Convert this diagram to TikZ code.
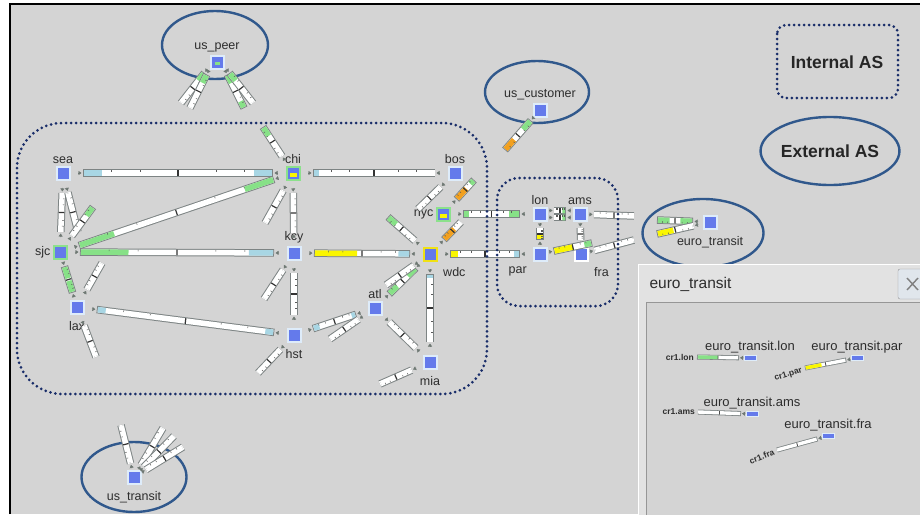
\documentclass[tikz,border=0pt]{standalone}
\usepackage{fontspec}
\setmainfont{Liberation Sans}
\usetikzlibrary{arrows.meta,calc,positioning,shapes.geometric}

\definecolor{canvas}{RGB}{212,212,212}
\definecolor{routerblue}{RGB}{100,122,235}
\definecolor{routerrim}{RGB}{222,236,250}
\definecolor{rimgreen}{RGB}{140,225,140}
\definecolor{rimyellow}{RGB}{240,225,20}
\definecolor{asblue}{RGB}{48,88,140}
\definecolor{asdots}{RGB}{25,45,105}
\definecolor{qgreen}{RGB}{135,225,135}
\definecolor{qblue}{RGB}{168,214,228}
\definecolor{qyellow}{RGB}{250,246,0}
\definecolor{qorange}{RGB}{242,160,30}
\definecolor{qrimgray}{RGB}{125,132,132}
\definecolor{qtickgray}{RGB}{90,90,90}
\definecolor{qtipgray}{RGB}{110,120,115}
\definecolor{labelgray}{RGB}{45,45,45}
\definecolor{winface}{RGB}{226,226,226}
\definecolor{panelrim}{RGB}{150,150,150}

\newcommand{\nodefont}{\fontsize{12.5}{14}\selectfont}
\newcommand{\winfont}{\fontsize{13}{15}\selectfont}

\tikzset{
  router/.style     = {rectangle, fill=routerblue, draw=routerrim, line width=2pt,
                       minimum size=13pt, inner sep=0pt},
  minirouter/.style = {rectangle, fill=routerblue, draw=routerrim, line width=1pt,
                       minimum width=12pt, minimum height=5pt, inner sep=0pt},
  every label/.style= {font=\nodefont, text=labelgray, inner sep=2pt},
  qrim/.style       = {line width=7.5pt, draw=qrimgray},
  qcore/.style      = {line width=5.5pt, draw=white},
  qtick/.style      = {line width=0.5pt, draw=qtickgray},
  qdiv/.style       = {line width=1.2pt, draw=black!80},
  qtip/.style       = {-{Triangle[length=3pt,width=4pt]}, line width=0.4pt, draw=qtipgray},
  mrim/.style       = {line width=5pt, draw=qrimgray},
  mcore/.style      = {line width=3.4pt, draw=white},
  mdiv/.style       = {line width=0.8pt, draw=black!70},
  asring/.style     = {ellipse, draw=asblue, line width=2.4pt, inner sep=0pt},
  asbox/.style      = {draw=asdots, line width=3pt, line cap=round, dash pattern=on 0pt off 5pt},
  crlabel/.style    = {font=\fontsize{8.5}{9}\selectfont\bfseries, text=labelgray, inner sep=0pt},
}

% queue bar between two ends: [gap at far end]{from}{to}{colour}{share}{colour}{share}
\newcommand{\qgap}{20pt}
\newcommand{\qlink}[7][\qgap]{%
  \coordinate (qs) at ($(#2)!\qgap!(#3)$);
  \coordinate (qe) at ($(#3)!#1!(#2)$);
  \draw[qrim] (qs) -- (qe);
  \draw[qcore] ($(qs)!1pt!(qe)$) -- ($(qe)!1pt!(qs)$);
  \draw[qcore,draw=#4] ($(qs)!1pt!(qe)$) -- ($(qs)!#5!(qe)$);
  \draw[qcore,draw=#6] ($(qe)!1pt!(qs)$) -- ($(qe)!#7!(qs)$);
  \foreach \t in {.15,.3,.7,.85}
    \draw[qtick] ($(qs)!\t!(qe)!2.6pt!90:(qe)$) -- ($(qs)!\t!(qe)!1pt!90:(qe)$);
  \draw[qdiv] ($(qs)!.5!(qe)!2.8pt!90:(qe)$) -- ($(qs)!.5!(qe)!2.8pt!-90:(qe)$);
  \draw[qtip] ($(qs)!-5pt!(qe)$) -- ($(qs)!-1.5pt!(qe)$);
  \ifdim#1>0pt \draw[qtip] ($(qe)!-5pt!(qs)$) -- ($(qe)!-1.5pt!(qs)$);\fi
}
% small bar in the euro_transit window: {router}{free end}{colour}{share}
\newcommand{\minilink}[4]{%
  \coordinate (ms) at ($(#1)!11pt!(#2)$);
  \draw[mrim] (ms) -- (#2);
  \draw[mcore] ($(ms)!.8pt!(#2)$) -- ($(#2)!.8pt!(ms)$);
  \draw[mcore,draw=#3] ($(#2)!.8pt!(ms)$) -- ($(#2)!#4!(ms)$);
  \draw[mdiv] ($(ms)!.5!(#2)!1.8pt!90:(#2)$) -- ($(ms)!.5!(#2)!1.8pt!-90:(#2)$);
  \draw[qtip] ($(ms)!-4.5pt!(#2)$) -- ($(ms)!-1pt!(#2)$);
}

\begin{document}
\begin{tikzpicture}[x=1pt,y=-1pt]
  \useasboundingbox (0,0) rectangle (920,514);
  \clip (0,0) rectangle (920,514);

  % screen
  \fill[white] (0,0) rectangle (920,514);
  \fill[canvas] (10,4) rectangle (920,514);
  \draw[line width=1.6pt] (10,514) -- (10,4) -- (920,4);

  % external AS rings
  \node[asring, minimum width=106pt, minimum height=68pt] (peerring) at (215,45) {};
  \node[asring, minimum width=104pt, minimum height=62pt] (custring) at (537,92) {};
  \node[asring, minimum width=121pt, minimum height=68pt] (euroring) at (703,233) {};
  \node[asring, minimum width=105pt, minimum height=70pt] (transring) at (134,477) {};

  % routers
  \node[router, label={above:sea}] (sea) at (63,173) {};
  \node[router, draw=rimgreen, label={above:chi}] (chi) at (293,173) {};
  \node[router, label={above:bos}] (bos) at (455,173) {};
  \node[router, draw=rimgreen, label={left:sjc}] (sjc) at (60,252) {};
  \node[router, label={above:kcy}] (kcy) at (294,253) {};
  \node[router, draw=rimgreen, label={left:nyc}] (nyc) at (443,214) {};
  \node[router, draw=rimyellow, label={[label distance=5pt]below right:wdc}] (wdc) at (430,254) {};
  \node[router, label={[label distance=5pt]below:lax}] (lax) at (77,307) {};
  \node[router, label={[label distance=5pt]below:hst}] (hst) at (294,335) {};
  \node[router, label={above:atl}] (atl) at (375,308) {};
  \node[router, label={[label distance=5pt]below:mia}] (mia) at (430,362) {};
  \node[router, label={above:lon}] (lon) at (540,214) {};
  \node[router, label={above:ams}] (ams) at (580,214) {};
  \node[router, label={[label distance=5pt]below left:par}] (par) at (540,254) {};
  \node[router, draw=white, label={[label distance=5pt]below right:fra}] (fra) at (581,254) {};
  \node[router, label={above:us\_peer}] (peer) at (217,62) {};
  \node[router, label={above:us\_customer}] (cust) at (540,110) {};
  \node[router, label={[label distance=5pt]below:euro\_transit}] (euro) at (710,222) {};
  \node[router, label={[label distance=5pt]below:us\_transit}] (trans) at (134,477) {};
  \fill[qyellow] ($(chi)+(-3,0)$) rectangle ($(chi)+(4,4)$);
  \fill[qyellow] ($(nyc)+(-3,0)$) rectangle ($(nyc)+(4,4)$);
  \fill[qgreen] ($(peer)+(-2,0)$) rectangle ($(peer)+(3,3)$);

  % free ends of the links that are only partly shown
  \coordinate (sjcB) at (78,232);
  \coordinate (sjcNE) at (93,207);
  \coordinate (laxNE) at (102,263);
  \coordinate (laxS) at (96,357);
  \coordinate (chiNW) at (263,127);
  \coordinate (chiSW) at (265,223);
  \coordinate (kcySW) at (264,299);
  \coordinate (hstSW) at (258,373);
  \coordinate (atlSW) at (330,339);
  \coordinate (wdcNW) at (388,217);
  \coordinate (wdcSW) at (386,285);
  \coordinate (wdcNE) at (461,222);
  \coordinate (miaW) at (380,384);
  \coordinate (bosSW) at (418,209);
  \coordinate (nycNE) at (474,180);
  \coordinate (parNE) at (592,243);
  \coordinate (amsE) at (634,216);
  \coordinate (fraE) at (634,240);
  \coordinate (euroW1) at (657,220);
  \coordinate (euroW2) at (657,234);
  \coordinate (custSW) at (505,150);
  \coordinate (peerA) at ([xshift=-4pt]peer.center);
  \coordinate (peerB) at ([xshift=4pt]peer.center);
  \coordinate (peerSW1) at (181,103);
  \coordinate (peerSW2) at (190,108);
  \coordinate (peerSE1) at (244,108);
  \coordinate (peerSE2) at (253,103);
  \coordinate (transN1) at (121,425);
  \coordinate (transN2) at (163,428);
  \coordinate (transN3) at (174,436);
  \coordinate (transN4) at (183,447);
  \coordinate (lonN) at ([yshift=3.5pt]lon.center);
  \coordinate (lonS) at ([yshift=-3.5pt]lon.center);
  \coordinate (amsN) at ([yshift=3.5pt]ams.center);
  \coordinate (amsS) at ([yshift=-3.5pt]ams.center);

  % links of the internal AS
  \qlink{sea}{chi}{qblue}{.1}{qblue}{.1}
  \qlink{chi}{bos}{qblue}{.05}{white}{0}
  \qlink{sjc}{chi}{qgreen}{.18}{qgreen}{.15}
  \qlink{sjc}{kcy}{qgreen}{.25}{qblue}{.13}
  \qlink{kcy}{wdc}{qyellow}{.45}{qblue}{.12}
  \qlink{wdc}{par}{qyellow}{.12}{qblue}{.08}
  \qlink{nyc}{lon}{qgreen}{.1}{qgreen}{.2}
  \qlink{sea}{sjc}{white}{0}{white}{0}
  \qlink[0pt]{sea}{sjcB}{white}{0}{white}{0}
  \qlink[0pt]{sjc}{sjcNE}{white}{0}{qgreen}{.3}
  \qlink{lax}{hst}{qblue}{.05}{qblue}{.05}
  \qlink[0pt]{lax}{laxNE}{white}{0}{white}{0}
  \qlink[0pt]{lax}{laxS}{white}{0}{white}{0}
  \qlink[0pt]{chi}{chiNW}{white}{0}{qgreen}{.3}
  \qlink[0pt]{chi}{chiSW}{white}{0}{white}{0}
  \qlink{chi}{kcy}{white}{0}{white}{0}
  \qlink[0pt]{kcy}{kcySW}{white}{0}{white}{0}
  \qlink{kcy}{hst}{white}{0}{white}{0}
  \qlink[0pt]{hst}{hstSW}{white}{0}{white}{0}
  \qlink{hst}{atl}{qblue}{.15}{qblue}{.1}
  \qlink[0pt]{atl}{atlSW}{white}{0}{white}{0}
  \qlink{atl}{wdc}{qgreen}{.3}{qgreen}{.3}
  \qlink[0pt]{wdc}{wdcSW}{white}{0}{white}{0}
  \qlink[0pt]{wdc}{wdcNW}{white}{0}{qgreen}{.3}
  \qlink[0pt]{wdc}{wdcNE}{qorange}{.6}{white}{0}
  \qlink{atl}{mia}{white}{0}{white}{0}
  \qlink{wdc}{mia}{qblue}{.06}{white}{0}
  \qlink[0pt]{mia}{miaW}{white}{0}{white}{0}
  \qlink[0pt]{bos}{bosSW}{white}{0}{white}{0}
  \qlink[0pt]{nyc}{nycNE}{qorange}{.55}{qgreen}{.2}
  \renewcommand{\qgap}{15pt}
  \qlink{sjc}{lax}{qgreen}{.45}{qgreen}{.45}
  \renewcommand{\qgap}{14pt}
  \qlink{lonN}{amsN}{white}{0}{qgreen}{.3}
  \qlink{lonS}{amsS}{white}{0}{qgreen}{.3}
  \qlink{lon}{par}{white}{0}{qyellow}{.5}
  \qlink{ams}{fra}{white}{0}{white}{0}
  \qlink[0pt]{par}{parNE}{qyellow}{.5}{qgreen}{.2}
  \qlink[0pt]{ams}{amsE}{white}{0}{white}{0}
  \qlink[0pt]{fra}{fraE}{white}{0}{white}{0}

  % links towards the external AS
  \qlink[0pt]{peerA}{peerSW1}{qgreen}{.25}{white}{0}
  \qlink[0pt]{peerA}{peerSW2}{qgreen}{.25}{white}{0}
  \qlink[0pt]{peerB}{peerSE1}{qgreen}{.25}{qgreen}{.2}
  \qlink[0pt]{peerB}{peerSE2}{qgreen}{.25}{white}{0}
  \qlink[0pt]{cust}{custSW}{qgreen}{.3}{qorange}{.35}
  \qlink[0pt]{trans}{transN1}{white}{0}{white}{0}
  \qlink[0pt]{trans}{transN2}{white}{0}{white}{0}
  \qlink[0pt]{trans}{transN3}{white}{0}{white}{0}
  \qlink[0pt]{trans}{transN4}{white}{0}{white}{0}
  \renewcommand{\qgap}{17pt}
  \qlink[0pt]{euro}{euroW1}{qgreen}{.35}{qgreen}{.35}
  \qlink[0pt]{euro}{euroW2}{white}{0}{qyellow}{.45}

  % internal AS borders
  \draw[asbox, rounded corners=45pt] (17,123) rectangle (487,394);
  \draw[asbox, rounded corners=22pt] (497,178) rectangle (618,306);

  % legend
  \draw[asbox, rounded corners=9pt] (777,25) rectangle (898,98);
  \node[font=\fontsize{17.5}{20}\selectfont\bfseries, text=black!85] (intlegend) at (837,62) {Internal AS};
  \node[asring, minimum width=136pt, minimum height=68pt,
        font=\fontsize{17.5}{20}\selectfont\bfseries, text=black!85] (extlegend) at (830,151) {External AS};

  % euro_transit window
  \fill[winface] (638,264) rectangle (925,520);
  \draw[white, line width=1.2pt] (638.5,520) -- (638.5,264.5) -- (925,264.5);
  \node[font=\fontsize{15.5}{18}\selectfont, text=labelgray, anchor=west] (wintitle) at (646,284) {euro\_transit};
  \filldraw[fill=routerrim!40!winface, draw=panelrim, rounded corners=2pt] (898,269) rectangle (940,299);
  \draw[gray, line width=1.4pt] (907,278) -- (918,290) (907,290) -- (918,278);
  \filldraw[fill=canvas, draw=panelrim, line width=1pt] (646,302) rectangle (925,520);

  \node[minirouter, label={[font=\winfont]above:euro\_transit.lon}] (elon) at (750,358) {};
  \node[minirouter, label={[font=\winfont]above:euro\_transit.par}] (epar) at (857,358) {};
  \node[minirouter, label={[font=\winfont]above:euro\_transit.ams}] (eams) at (752,414) {};
  \node[minirouter, label={[font=\winfont]above:euro\_transit.fra}] (efra) at (828,436) {};
  \coordinate (clon) at (697,357);
  \coordinate (cpar) at (805,368);
  \coordinate (cams) at (698,412);
  \coordinate (cfra) at (777,450);
  \minilink{elon}{clon}{qgreen}{.5}
  \minilink{epar}{cpar}{qyellow}{.4}
  \minilink{eams}{cams}{white}{0}
  \minilink{efra}{cfra}{white}{0}
  \node[crlabel, left=3pt of clon] (crlon) {cr1.lon};
  \node[crlabel, left=3pt of cams] (crams) {cr1.ams};
  \node[crlabel, rotate=18, anchor=east] (crpar) at ($(cpar)+(-3,2)$) {cr1.par};
  \node[crlabel, rotate=22, anchor=east] (crfra) at ($(cfra)+(-3,2)$) {cr1.fra};
\end{tikzpicture}
\end{document}
